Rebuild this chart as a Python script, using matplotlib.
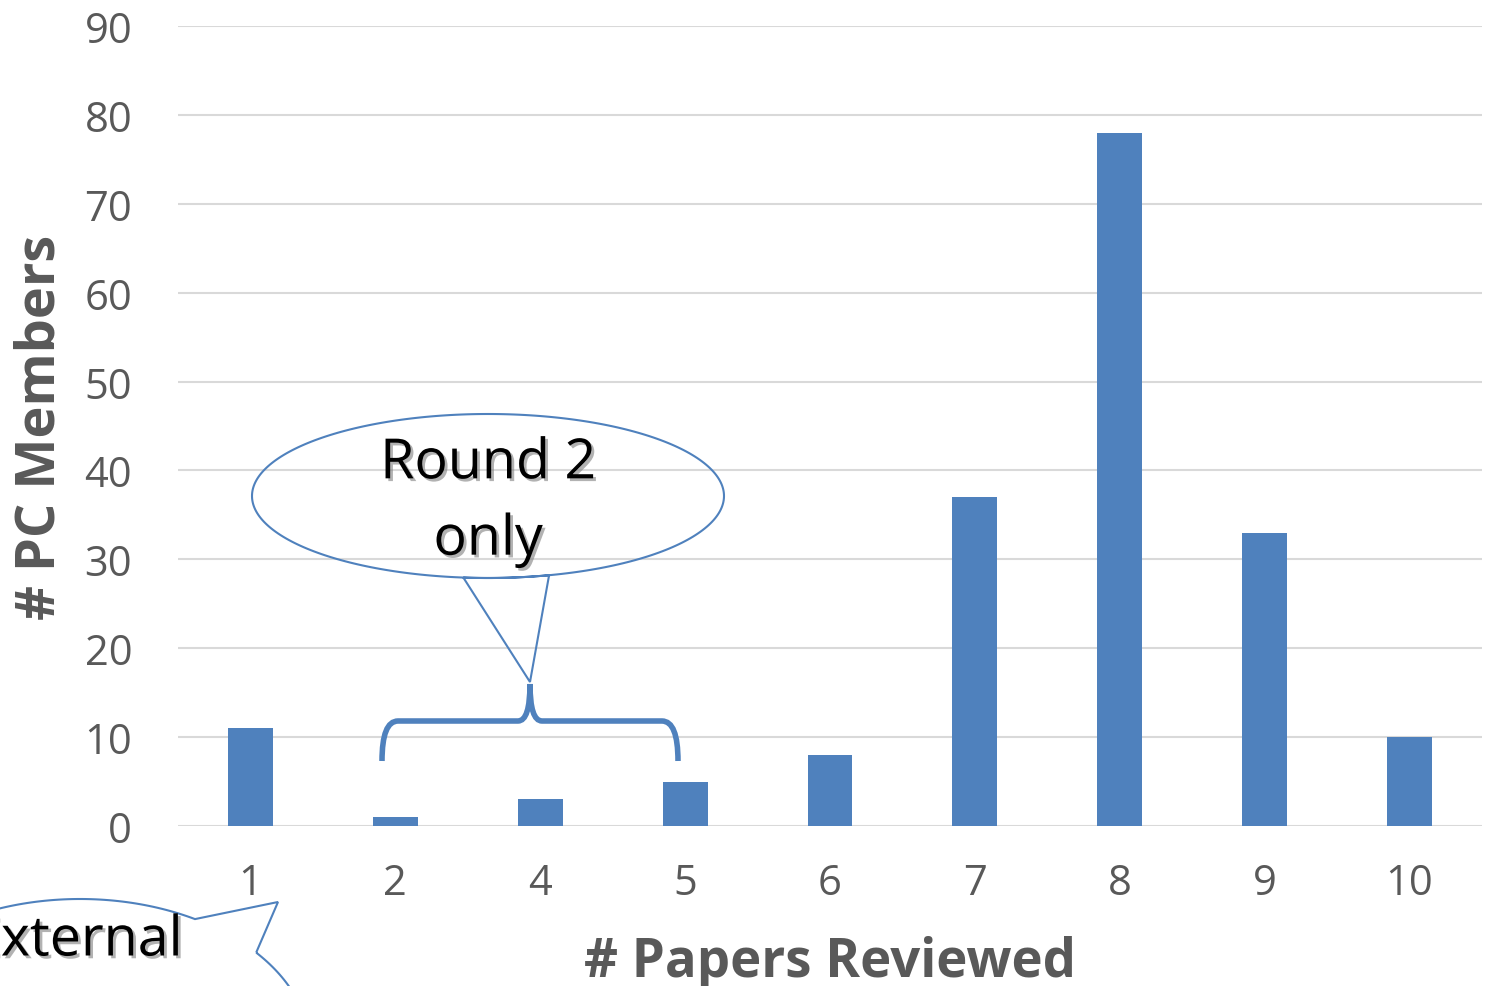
import numpy as np
import matplotlib
matplotlib.use("Agg")
import matplotlib.pyplot as plt
from matplotlib.path import Path
import matplotlib.patches as mpatches
import matplotlib.patheffects as pe

# 数据
categories = ["1", "2", "4", "5", "6", "7", "8", "9", "10"]
members = [11, 1, 3, 5, 8, 37, 78, 33, 10]
y_ticks = list(range(0, 91, 10))

BLUE = "#4F81BD"
GRAY = "#595959"
GRID = "#D9D9D9"
FONT = "Open Sans"

W, H = 1485, 987
fig = plt.figure(figsize=(W / 100, H / 100), dpi=100)
ax = fig.add_axes([178 / W, 1 - 827 / H, (1482 - 178) / W, 800 / H])

x = np.arange(len(categories))
ax.bar(x, members, width=0.31, color=BLUE, zorder=2)
ax.set_xlim(-0.5, len(categories) - 0.5)
ax.set_ylim(0, 90)
ax.set_yticks(y_ticks)
ax.set_xticks(x)
ax.set_xticklabels(categories)
ax.grid(axis="y", color=GRID, lw=1.5, zorder=0)
ax.set_axisbelow(True)
for s in ax.spines.values():
    s.set_visible(False)
ax.tick_params(length=0, colors=GRAY, labelsize=30)
ax.tick_params(axis="y", pad=33)
ax.tick_params(axis="x", pad=26)
for lab in ax.get_xticklabels() + ax.get_yticklabels():
    lab.set_family(FONT)
ax.set_ylabel("# PC Members", fontsize=39, fontweight="bold", color=GRAY,
              family=FONT, labelpad=12)
ax.set_xlabel("# Papers Reviewed", fontsize=38, fontweight="bold", color=GRAY,
              family=FONT, labelpad=22)

# 像素坐标的覆盖层，用于标注
ov = fig.add_axes([0, 0, 1, 1])
ov.set_xlim(0, W)
ov.set_ylim(H, 0)
ov.axis("off")
ov.patch.set_alpha(0)


def _bubble(cx, cy, a, b, t0, t1, tip):
    """椭圆气泡 + 尖角，t0/t1 为尖角两侧的参数角（度）。"""
    ts = np.radians(np.linspace(t1, t0 + 360, 300))
    pts = [(cx + a * np.cos(t), cy + b * np.sin(t)) for t in ts]
    pts.append(tip)
    return mpatches.Polygon(pts, closed=True, fill=False, ec=BLUE, lw=1.5)


# "Round 2 only" 气泡（y 向下，sin>0 为下方）
ov.add_patch(_bubble(488, 497, 236, 82, 96, 75, (530, 683)))
shadow = [pe.SimplePatchShadow(offset=(2, -2), shadow_rgbFace="gray", alpha=0.6),
          pe.Normal()]
ov.text(488, 503, "Round 2\nonly", ha="center", va="center", fontsize=40,
        family=FONT, color="black", linespacing=1.45, path_effects=shadow)

# 花括号
brace = Path(
    [(382, 762), (382, 722), (398, 722), (518, 722),
     (530, 722), (530, 685), (530, 722), (542, 722),
     (662, 722), (678, 722), (678, 762)],
    [Path.MOVETO, Path.CURVE3, Path.CURVE3, Path.LINETO,
     Path.CURVE3, Path.CURVE3, Path.CURVE3, Path.CURVE3,
     Path.LINETO, Path.CURVE3, Path.CURVE3])
ov.add_patch(mpatches.PathPatch(brace, fill=False, ec=BLUE, lw=4,
                                capstyle="butt"))

# 左下角被截断的气泡（原图即被裁掉一部分）
ov.add_patch(_bubble(80, 1050, 230, 150, 300, 320, (278, 903)))
ov.text(182, 942, "External", ha="right", va="center", fontsize=40,
        family=FONT, color="black", path_effects=shadow)

fig.savefig("out.png", dpi=100)
